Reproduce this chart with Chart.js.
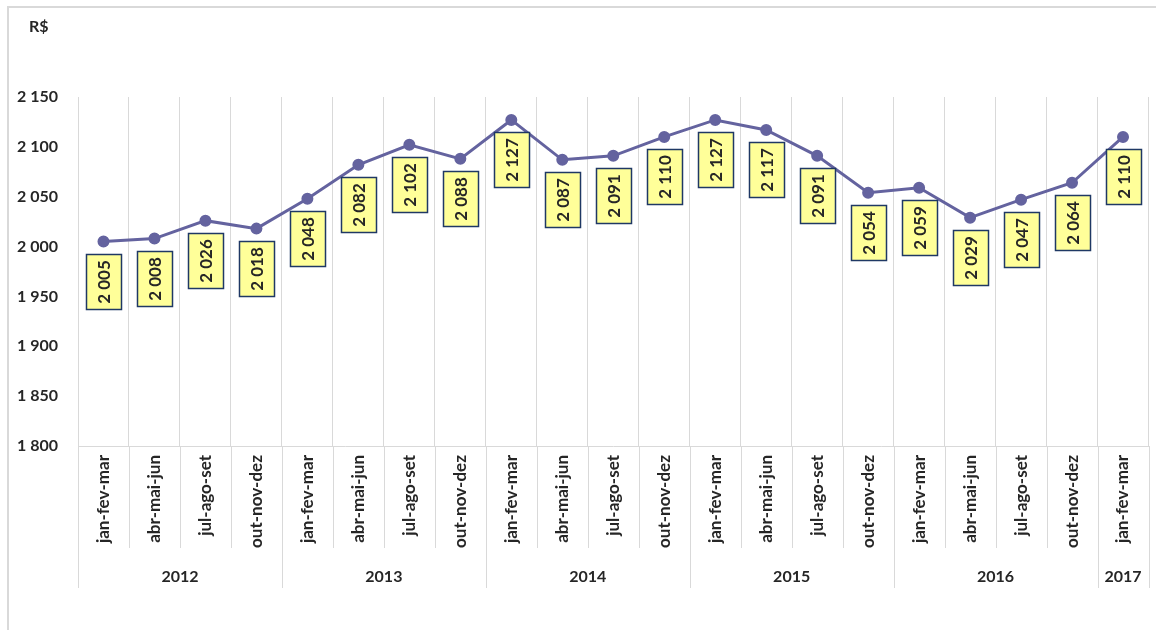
<!DOCTYPE html>
<html>
<head>
<meta charset="utf-8">
<script src="https://cdn.jsdelivr.net/npm/chart.js@4.4.1/dist/chart.umd.min.js"></script>
<style>
  html, body { margin: 0; padding: 0; background: #fff; overflow: hidden; }
  #wrap { position: relative; width: 1156px; height: 630px; }
</style>
</head>
<body>
<div id="wrap"><canvas id="income-chart"></canvas></div>
<script>
const quarters = [
    'jan-fev-mar', 'abr-mai-jun', 'jul-ago-set', 'out-nov-dez',
    'jan-fev-mar', 'abr-mai-jun', 'jul-ago-set', 'out-nov-dez',
    'jan-fev-mar', 'abr-mai-jun', 'jul-ago-set', 'out-nov-dez',
    'jan-fev-mar', 'abr-mai-jun', 'jul-ago-set', 'out-nov-dez',
    'jan-fev-mar', 'abr-mai-jun', 'jul-ago-set', 'out-nov-dez',
    'jan-fev-mar'
];
const years = ['2012', '2013', '2014', '2015', '2016', '2017'];
const quartersPerYear = [4, 4, 4, 4, 4, 1];
const income = [
    2005, 2008, 2026, 2018,
    2048, 2082, 2102, 2088,
    2127, 2087, 2091, 2110,
    2127, 2117, 2091, 2054,
    2059, 2029, 2047, 2064,
    2110
];
const yTicks = [1800, 1850, 1900, 1950, 2000, 2050, 2100, 2150];

const FONT = 'Lato, Calibri, "Open Sans", sans-serif';
const TEXT = '#262626';
const GRID = '#d9d9d9';

function fmt(v) {
    return String(v).replace(/\B(?=(\d{3})+(?!\d))/g, ' ');
}

// frame, axis unit, long separators and the year row under the quarter labels
const framePlugin = {
    id: 'frame',
    beforeDraw(chart) {
        const ctx = chart.ctx;
        ctx.save();
        ctx.strokeStyle = GRID;
        ctx.lineWidth = 2;
        ctx.strokeRect(8, 7, chart.width + 20, chart.height + 20);
        ctx.restore();
    },
    afterDraw(chart) {
        const ctx = chart.ctx;
        const x = chart.scales.x;
        const area = chart.chartArea;
        const step = x.width / quarters.length;
        const bottomQ = area.bottom + 102;
        const bottomY = area.bottom + 142;

        ctx.save();
        ctx.strokeStyle = GRID;
        ctx.lineWidth = 1;
        // separators between the quarter labels
        for (let i = 0; i <= quarters.length; i++) {
            const px = Math.round(x.left + i * step) + 0.5;
            ctx.beginPath();
            ctx.moveTo(px, area.bottom);
            ctx.lineTo(px, bottomQ);
            ctx.stroke();
        }
        // separators between years + year labels
        ctx.fillStyle = TEXT;
        ctx.font = 'bold 16px ' + FONT;
        ctx.textAlign = 'center';
        ctx.textBaseline = 'middle';
        let start = 0;
        years.forEach((yr, k) => {
            const x0 = x.left + start * step;
            const x1 = x.left + (start + quartersPerYear[k]) * step;
            [x0, x1].forEach(px => {
                ctx.beginPath();
                ctx.moveTo(Math.round(px) + 0.5, bottomQ);
                ctx.lineTo(Math.round(px) + 0.5, bottomY);
                ctx.stroke();
            });
            ctx.fillText(yr, (x0 + x1) / 2, area.bottom + 131);
            start += quartersPerYear[k];
        });

        ctx.textAlign = 'left';
        ctx.font = 'bold 16px ' + FONT;
        ctx.fillText('R$', 29, 27);
        ctx.restore();
    }
};

// yellow value boxes under each point
const valueBoxPlugin = {
    id: 'valueBoxes',
    afterDatasetsDraw(chart) {
        const ctx = chart.ctx;
        const meta = chart.getDatasetMeta(0);
        const data = chart.data.datasets[0].data;
        const w = 35, h = 55, gap = 12;
        ctx.save();
        meta.data.forEach((pt, i) => {
            const left = Math.round(pt.x - w / 2) + 0.5;
            const top = Math.round(pt.y + gap) + 0.5;
            ctx.fillStyle = '#ffff99';
            ctx.fillRect(left, top, w, h);
            ctx.strokeStyle = '#1f3864';
            ctx.lineWidth = 1.5;
            ctx.strokeRect(left, top, w, h);

            ctx.translate(left + w / 2, top + h / 2);
            ctx.rotate(-Math.PI / 2);
            ctx.fillStyle = TEXT;
            ctx.font = 'bold 17px ' + FONT;
            ctx.textAlign = 'center';
            ctx.textBaseline = 'middle';
            ctx.fillText(fmt(data[i]), 0, 1);
            ctx.setTransform(1, 0, 0, 1, 0, 0);
        });
        ctx.restore();
    }
};

const ctx = document.getElementById('income-chart').getContext('2d');
const incomeChart = new Chart(ctx, {
    type: 'line',
    data: {
        labels: quarters,
        datasets: [
            {
                data: income,
                borderColor: '#64639f',
                backgroundColor: '#64639f',
                borderWidth: 3,
                pointRadius: 4.5,
                pointHoverRadius: 4.5,
                tension: 0
            }
        ]
    },
    options: {
        responsive: true,
        maintainAspectRatio: false,
        animation: false,
        devicePixelRatio: 1,
        layout: {
            padding: { top: 97, bottom: 42, left: 0, right: 7 }
        },
        plugins: {
            legend: { display: false },
            tooltip: { enabled: false }
        },
        scales: {
            x: {
                offset: true,
                afterFit: scale => { scale.height = 142; },
                grid: {
                    offset: true,
                    color: GRID,
                    drawTicks: false
                },
                border: { display: true, color: GRID },
                ticks: {
                    minRotation: 90,
                    maxRotation: 90,
                    autoSkip: false,
                    padding: 9,
                    color: TEXT,
                    font: { family: FONT, size: 17, weight: 'bold' }
                }
            },
            y: {
                min: 1800,
                max: 2150,
                afterFit: scale => { scale.width = 78; },
                afterBuildTicks: scale => {
                    scale.ticks = yTicks.map(v => ({ value: v }));
                },
                grid: { display: false, drawTicks: false },
                border: { display: false },
                ticks: {
                    padding: 20,
                    color: TEXT,
                    font: { family: FONT, size: 16, weight: 'bold' },
                    callback: v => fmt(v)
                }
            }
        }
    },
    plugins: [framePlugin, valueBoxPlugin]
});
</script>
</body>
</html>
